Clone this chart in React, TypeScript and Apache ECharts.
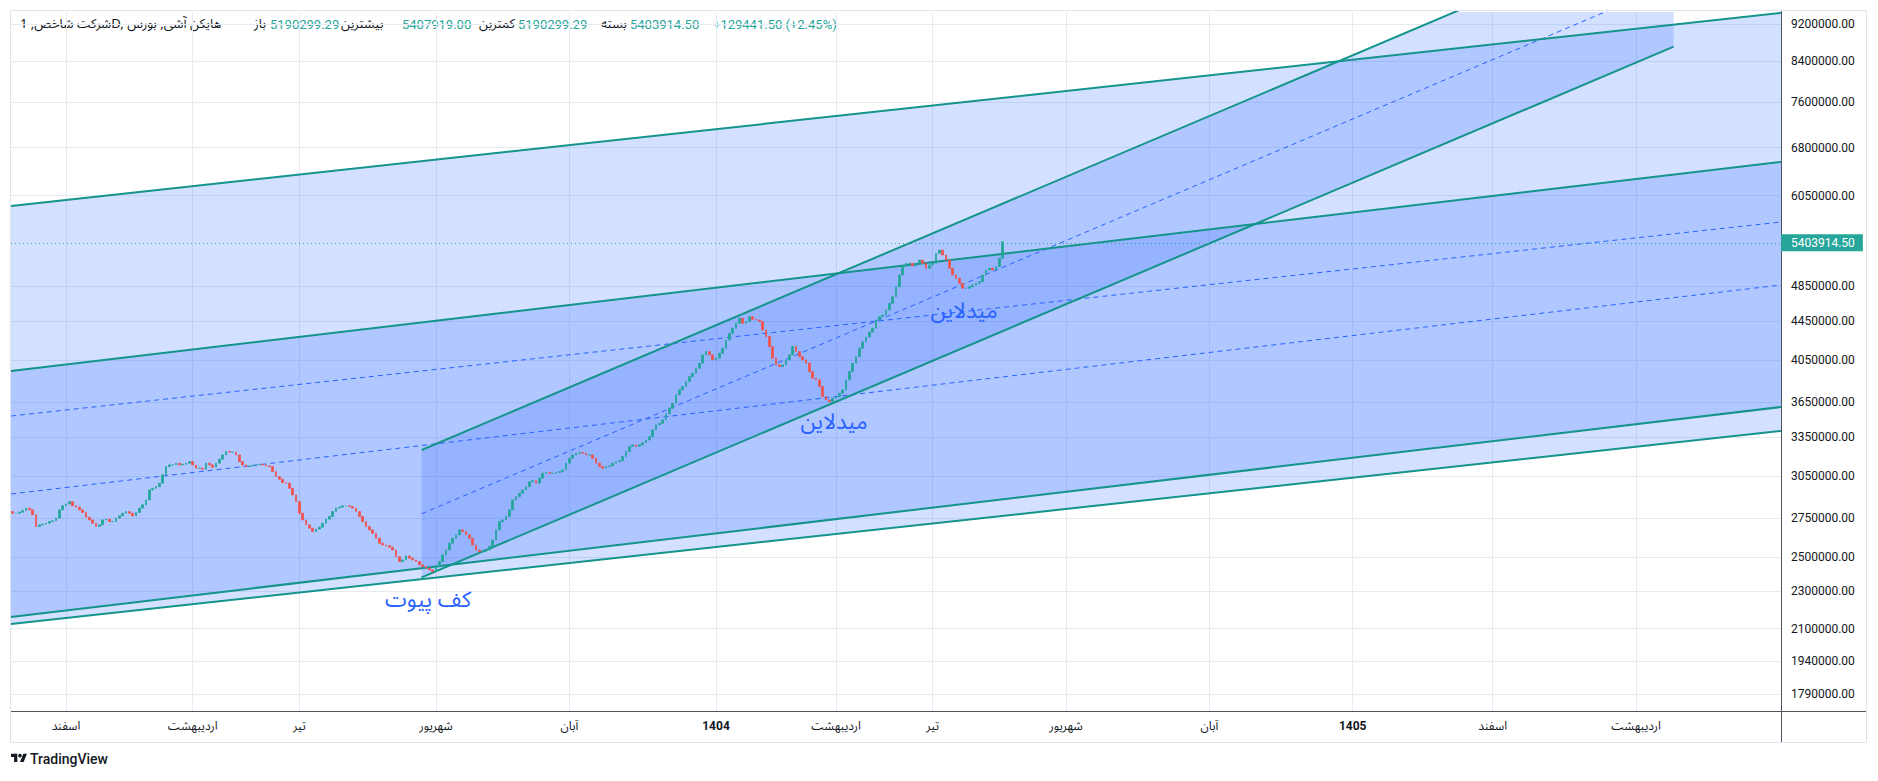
import React, { useEffect, useRef } from 'react';
import * as echarts from 'echarts';

// ---------------- DATA ----------------
// Heikin-Ashi daily closes (bar index 0..297)
const CLOSE = [
  2784000, 2784000, 2791000, 2802000, 2819000, 2807000, 2773000, 2695000, 2706000, 2711000,
  2717000, 2728000, 2733000, 2751000, 2807000, 2835000, 2848000, 2864000, 2835000, 2826000,
  2807000, 2789000, 2757000, 2739000, 2717000, 2695000, 2706000, 2739000, 2744000, 2728000,
  2728000, 2751000, 2766000, 2784000, 2795000, 2784000, 2766000, 2789000, 2819000, 2842000,
  2876000, 2947000, 2959000, 2971000, 2996000, 3058000, 3120000, 3133000, 3133000, 3146000,
  3133000, 3138000, 3146000, 3158000, 3133000, 3108000, 3108000, 3100000, 3146000, 3133000,
  3115000, 3146000, 3177000, 3210000, 3237000, 3232000, 3232000, 3210000, 3158000, 3133000,
  3120000, 3125000, 3130000, 3135000, 3138000, 3133000, 3125000, 3120000, 3082000, 3045000,
  3025000, 3000000, 2996000, 2959000, 2911000, 2864000, 2784000, 2739000, 2706000, 2684000,
  2662000, 2678000, 2691000, 2717000, 2744000, 2762000, 2795000, 2819000, 2826000, 2835000,
  2835000, 2830000, 2819000, 2795000, 2762000, 2728000, 2695000, 2673000, 2651000, 2619000,
  2587000, 2576000, 2572000, 2562000, 2545000, 2504000, 2474000, 2484000, 2508000, 2494000,
  2484000, 2474000, 2454000, 2444000, 2434000, 2424000, 2414000, 2444000, 2474000, 2515000,
  2545000, 2587000, 2619000, 2641000, 2673000, 2662000, 2641000, 2619000, 2576000, 2545000,
  2535000, 2535000, 2545000, 2566000, 2608000, 2673000, 2728000, 2739000, 2762000, 2807000,
  2876000, 2899000, 2923000, 2947000, 2971000, 3007000, 3015000, 2996000, 3033000, 3070000,
  3075000, 3070000, 3070000, 3075000, 3082000, 3095000, 3146000, 3184000, 3210000, 3223000,
  3228000, 3223000, 3210000, 3210000, 3184000, 3146000, 3120000, 3108000, 3120000, 3125000,
  3146000, 3158000, 3165000, 3197000, 3237000, 3277000, 3290000, 3277000, 3290000, 3308000,
  3330000, 3357000, 3412000, 3455000, 3468000, 3497000, 3549000, 3598000, 3643000, 3718000,
  3763000, 3794000, 3840000, 3887000, 3920000, 3968000, 4017000, 4099000, 4132000, 4099000,
  4049000, 4066000, 4115000, 4166000, 4251000, 4321000, 4374000, 4428000, 4483000, 4428000,
  4446000, 4500000, 4471000, 4464000, 4446000, 4356000, 4286000, 4183000, 4066000, 4000000,
  3984000, 4000000, 4049000, 4099000, 4183000, 4132000, 4082000, 4049000, 4017000, 3935000,
  3872000, 3856000, 3794000, 3702000, 3672000, 3657000, 3687000, 3702000, 3732000, 3763000,
  3856000, 3935000, 4017000, 4082000, 4166000, 4231000, 4283000, 4335000, 4374000, 4464000,
  4500000, 4519000, 4574000, 4649000, 4725000, 4842000, 4983000, 5085000, 5127000, 5127000,
  5094000, 5127000, 5168000, 5127000, 5065000, 5106000, 5127000, 5254000, 5296000, 5232000,
  5168000, 5065000, 4983000, 4942000, 4882000, 4823000, 4823000, 4842000, 4862000, 4882000,
  4902000, 4983000, 5044000, 5065000, 5044000, 5085000, 5190299.29, 5403914.5,
];
const FIRST_OPEN = 2795000;
const LAST_OPEN = 5190299.29;
const LAST_HIGH = 5407919.0;
const LAST_LOW = 5190299.29;
const LAST_CLOSE = 5403914.5;
const CHANGE_TEXT = '+129441.50 (+2.45%)';

// time axis (bar index) labels
const X_LABEL_IDX = [16, 54, 86, 127, 167, 211, 247, 276, 316, 359, 402, 444, 487];
const X_LABELS = ['اسفند', 'اردیبهشت', 'تیر', 'شهریور', 'آبان', '1404', 'اردیبهشت', 'تیر', 'شهریور', 'آبان', '1405', 'اسفند', 'اردیبهشت'];
const X_BOLD = ['1404', '1405'];
const X_MIN = -0.5;
const X_MAX = 530.5;

// price axis (logarithmic) ticks
const Y_TICKS = [9200000, 8400000, 7600000, 6800000, 6050000, 4850000, 4450000, 4050000, 3650000, 3350000, 3050000, 2750000, 2500000, 2300000, 2100000, 1940000, 1790000];
const Y_MIN = 1717200;
const Y_MAX = 9473700;

// drawings: [barIndex, price]
const CH1_UPPER = [[-0.5, 5897700], [530.5, 9450600]];
const CH1_MID = [[-0.5, 3530400], [530.5, 5671300]];
const CH1_LOWER = [[-0.5, 2124200], [530.5, 3403500]];
const CH2_UPPER = [[-0.5, 3940900], [530.5, 6566900]];
const CH2_MID = [[-0.5, 2917900], [530.5, 4862500]];
const CH2_LOWER = [[-0.5, 2160800], [530.5, 3609000]];
const FORK_UPPER = [[122.7, 3249200], [498.3, 11885000]];
const FORK_MID = [[122.7, 2780700], [498.3, 10171800]];
const FORK_LOWER = [[122.7, 2380100], [498.3, 8705800]];

const NOTES = [
  { text: 'کف پیوت', x: 124.6, p: 2252000 },
  { text: 'میدلاین', x: 246.4, p: 3479000 },
  { text: 'میدلاین', x: 285.4, p: 4563000 },
];

const HEADER = [
  { text: 'شرکت شاخص, 1D, هایکن آشی, بورس', x: 20, kind: 'title' },
  { text: 'باز', x: 254, kind: 'label' },
  { text: '5190299.29', x: 270, kind: 'value' },
  { text: 'بیشترین', x: 341, kind: 'label' },
  { text: '5407919.00', x: 402, kind: 'value' },
  { text: 'کمترین', x: 479, kind: 'label' },
  { text: '5190299.29', x: 518, kind: 'value' },
  { text: 'بسته', x: 601, kind: 'label' },
  { text: '5403914.50', x: 630, kind: 'value' },
  { text: CHANGE_TEXT, x: 713, kind: 'value' },
];

// ---------------- STYLE ----------------
const FONT = 'Roboto, "DejaVu Sans", sans-serif';
const AR_FONT = '"Noto Sans Arabic", Vazirmatn, "DejaVu Sans", sans-serif';
const UP = '#26a69a';
const DOWN = '#ef5350';
const TEAL = '#14948a';
const DASH = '#2962ff';
const FILL = 'rgba(41,98,255,0.2)';
const GRID_COLOR = '#e6ebf2';
const TEXT = '#131722';

const TV_PATH = 'M14 22H7V11H0V4h14v18zM28 22h-8l7.5-18h8L28 22z';
let registered = false;
function registerShapes() {
  if (registered) return;
  registered = true;
  echarts.graphic.registerShape('tvlogo', echarts.graphic.extendPath(TV_PATH, {}) as any);
}

const L = Math.log;

function lineSeries(pts: number[][], color: string, width: number, dashed: boolean) {
  return {
    type: 'line',
    data: pts.map(([x, p]) => [x, L(p)]),
    showSymbol: false,
    symbol: 'none',
    silent: true,
    clip: true,
    z: 3,
    lineStyle: { color, width, type: dashed ? [5, 4] : 'solid' },
  };
}

export default function App() {
  const ref = useRef<HTMLDivElement>(null);
  useEffect(() => {
    registerShapes();
    document.body.style.margin = '0';
    const chart = echarts.init(ref.current!, null, { renderer: 'svg' });

    const candles = CLOSE.map((c, i) => {
      const o = i === 0 ? FIRST_OPEN : (i === CLOSE.length - 1 ? LAST_OPEN : CLOSE[i - 1]);
      const isLast = i === CLOSE.length - 1;
      const h = isLast ? LAST_HIGH : Math.max(o, c);
      const l = isLast ? LAST_LOW : Math.min(o, c);
      return [i, L(o), L(c), L(l), L(h)];
    });

    const polys = [
      [CH1_UPPER[0], CH1_UPPER[1], CH1_LOWER[1], CH1_LOWER[0]],
      [CH2_UPPER[0], CH2_UPPER[1], CH2_LOWER[1], CH2_LOWER[0]],
      [FORK_UPPER[0], FORK_UPPER[1], FORK_LOWER[1], FORK_LOWER[0]],
    ];

    const yTickVals = Y_TICKS.map((t) => L(t));

    const header = HEADER.map((h) => ({
      type: 'text',
      x: h.x,
      y: 24,
      silent: true,
      style: {
        text: h.text,
        fill: h.kind === 'value' ? UP : TEXT,
        fontSize: 13,
        fontFamily: h.kind === 'value' ? FONT : AR_FONT,
        align: 'left',
        verticalAlign: 'middle',
      },
    }));

    const option: any = {
      animation: false,
      backgroundColor: '#ffffff',
      grid: { left: 11, top: 12, width: 1770, height: 699, containLabel: false },
      xAxis: {
        type: 'value',
        min: X_MIN,
        max: X_MAX,
        axisLine: { show: false },
        axisTick: { show: false, customValues: X_LABEL_IDX },
        axisLabel: {
          customValues: X_LABEL_IDX,
          margin: 9,
          color: TEXT,
          fontSize: 12,
          fontFamily: AR_FONT,
          formatter: (v: number) => {
            const k = X_LABEL_IDX.findIndex((x) => Math.abs(x - v) < 1e-6);
            if (k < 0) return '';
            const s = X_LABELS[k];
            return X_BOLD.includes(s) ? '{b|' + s + '}' : s;
          },
          rich: { b: { fontWeight: 'bold', fontSize: 12, color: TEXT, fontFamily: FONT } },
        },
        splitLine: { show: true, lineStyle: { color: GRID_COLOR, width: 1 } },
      },
      yAxis: {
        type: 'value',
        position: 'right',
        min: L(Y_MIN),
        max: L(Y_MAX),
        axisLine: { show: false },
        axisTick: { show: false, customValues: yTickVals },
        axisLabel: {
          customValues: yTickVals,
          margin: 10,
          color: TEXT,
          fontSize: 12,
          fontFamily: FONT,
          align: 'left',
          formatter: (v: number) => {
            const k = yTickVals.findIndex((t) => Math.abs(t - v) < 1e-6);
            return k < 0 ? '' : Y_TICKS[k].toFixed(2);
          },
        },
        splitLine: { show: true, lineStyle: { color: GRID_COLOR, width: 1 } },
      },
      series: [
        {
          type: 'custom',
          coordinateSystem: 'cartesian2d',
          clip: true,
          silent: true,
          z: 1,
          data: polys.map((p) => [p[0][0], L(p[0][1])]),
          renderItem: (params: any, api: any) => {
            const poly = polys[params.dataIndex];
            return {
              type: 'polygon',
              shape: { points: poly.map(([x, p]) => api.coord([x, L(p)])) },
              style: { fill: FILL, stroke: null },
            };
          },
        },
        lineSeries(CH1_MID, DASH, 1, true),
        lineSeries(CH2_MID, DASH, 1, true),
        lineSeries(FORK_MID, DASH, 1, true),
        lineSeries(CH1_UPPER, TEAL, 2, false),
        lineSeries(CH1_LOWER, TEAL, 2, false),
        lineSeries(CH2_UPPER, TEAL, 2, false),
        lineSeries(CH2_LOWER, TEAL, 2, false),
        lineSeries(FORK_UPPER, TEAL, 2, false),
        lineSeries(FORK_LOWER, TEAL, 2, false),
        {
          type: 'candlestick',
          data: candles,
          encode: { x: 0, y: [1, 2, 3, 4] },
          barWidth: 2.4,
          z: 5,
          silent: true,
          itemStyle: { color: UP, color0: DOWN, borderColor: UP, borderColor0: DOWN, borderWidth: 0.8 },
          markLine: {
            silent: true,
            symbol: ['none', 'none'],
            data: [{ yAxis: L(LAST_CLOSE) }],
            lineStyle: { color: UP, width: 1, type: [1, 3] },
            label: {
              show: true,
              position: 'end',
              distance: 0,
              formatter: LAST_CLOSE.toFixed(2),
              color: '#ffffff',
              backgroundColor: UP,
              padding: [3, 8, 2, 10],
              fontSize: 12,
              fontFamily: FONT,
            },
          },
        },
        {
          type: 'custom',
          coordinateSystem: 'cartesian2d',
          clip: false,
          silent: true,
          z: 6,
          data: NOTES.map((n) => [n.x, L(n.p)]),
          renderItem: (params: any, api: any) => {
            const n = NOTES[params.dataIndex];
            const pt = api.coord([n.x, L(n.p)]);
            return {
              type: 'text',
              x: pt[0],
              y: pt[1],
              style: {
                text: n.text,
                fill: '#2962ff',
                fontSize: 22,
                fontFamily: AR_FONT,
                align: 'center',
                verticalAlign: 'middle',
              },
            };
          },
        },
      ],
      graphic: [
        { type: 'rect', silent: true, shape: { x: 10.5, y: 10.5, width: 1856, height: 732 }, style: { fill: 'none', stroke: '#e0e3eb', lineWidth: 1 } },
        { type: 'line', silent: true, shape: { x1: 1781.5, y1: 11, x2: 1781.5, y2: 742 }, style: { stroke: '#50535e', lineWidth: 1 } },
        { type: 'line', silent: true, shape: { x1: 11, y1: 711.5, x2: 1866, y2: 711.5 }, style: { stroke: '#50535e', lineWidth: 1 } },
        ...header,
        { type: 'tvlogo', x: 11, y: 752, scaleX: 0.45, scaleY: 0.45, silent: true, style: { fill: TEXT } },
        { type: 'circle', silent: true, shape: { cx: 11 + 20 * 0.45, cy: 752 + 8 * 0.45, r: 1.8 }, style: { fill: TEXT } },
        { type: 'text', x: 30, y: 759, silent: true, style: { text: 'TradingView', fill: TEXT, fontSize: 14, fontWeight: 500, fontFamily: FONT, verticalAlign: 'middle', align: 'left' } },
      ],
    };

    chart.setOption(option);
    return () => chart.dispose();
  }, []);

  return <div ref={ref} style={{ position: 'absolute', left: 0, top: 0, width: 1878, height: 781, background: '#ffffff' }} />;
}
